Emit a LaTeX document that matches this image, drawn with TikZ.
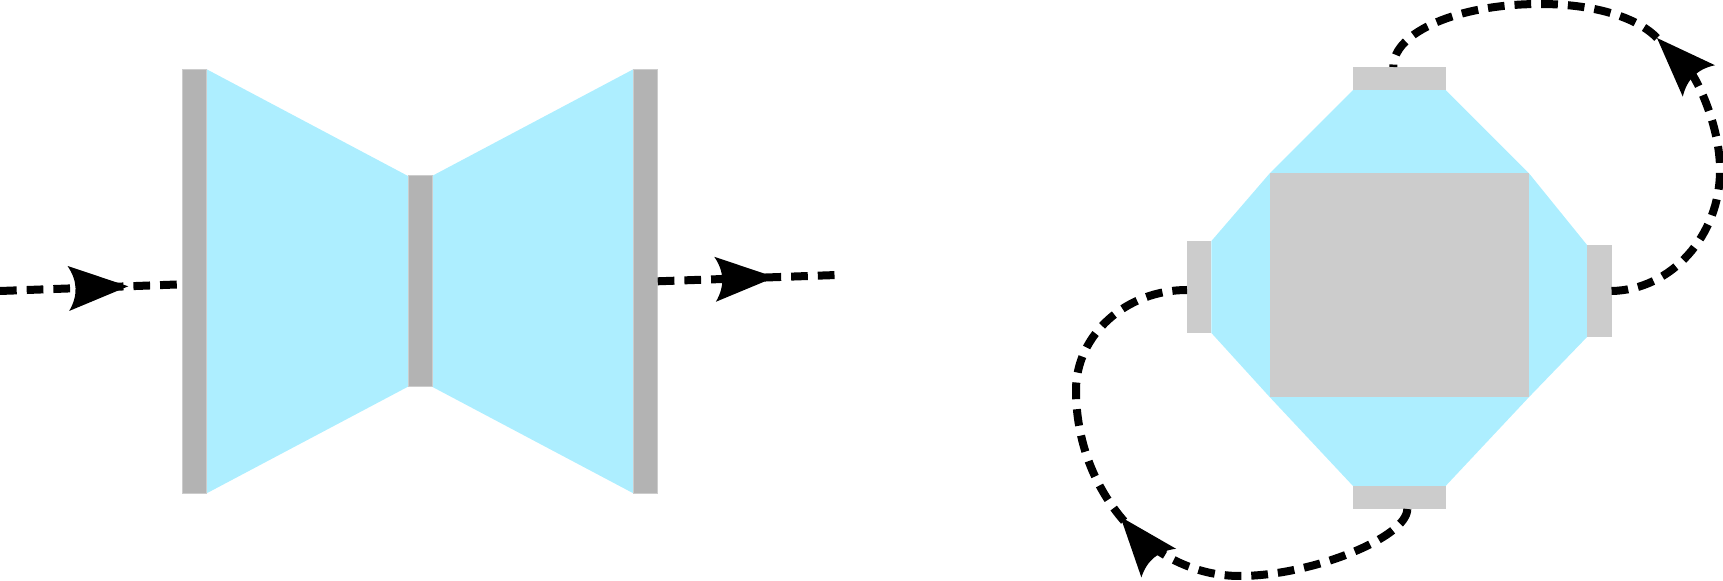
\documentclass[tikz,border=0pt]{standalone}
\usetikzlibrary{arrows.meta,decorations.markings,calc,backgrounds}
\definecolor{cyanfill}{RGB}{173,238,255}
\definecolor{bargray}{RGB}{179,179,179}
\definecolor{portgray}{RGB}{204,204,204}
\pgfdeclarearrow{
  name = CurvedStealth,
  parameters = {\the\pgfarrowlength,\the\pgfarrowwidth},
  setup code = {
    \pgfarrowssettipend{0pt}
    \pgfarrowssetbackend{-\pgfarrowlength}
    \pgfarrowssetlineend{-0.8\pgfarrowlength}
    \pgfarrowssavethe\pgfarrowlength
    \pgfarrowssavethe\pgfarrowwidth
  },
  drawing code = {
    \pgfpathmoveto{\pgfpoint{0pt}{0pt}}
    \pgfpathlineto{\pgfpoint{-\pgfarrowlength}{0.5\pgfarrowwidth}}
    \pgfpathquadraticcurveto{\pgfpoint{-0.76\pgfarrowlength}{0pt}}{\pgfpoint{-\pgfarrowlength}{-0.5\pgfarrowwidth}}
    \pgfpathclose
    \pgfusepathqfill
  },
  defaults = {length=30pt, width=22.5pt}
}
\begin{document}
\begin{tikzpicture}[x=0.5pt,y=-0.5pt,
  bar/.style={fill=bargray, draw=portgray, line width=0.5pt, inner sep=0pt, outer sep=0pt},
  port/.style={fill=portgray, inner sep=0pt, outer sep=0pt},
  flow/.style={line width=4pt, dash pattern=on 8.35pt off 5pt},
  headtip/.style={-{CurvedStealth[length=30pt,width=22.5pt]}},
  midarrow/.style={postaction={decorate}, decoration={markings,
     mark=at position #1 with {\arrow{CurvedStealth[length=30pt,width=22.5pt]}}}}
]
\useasboundingbox (0,0) rectangle (1723,581);
% left figure
\node[bar, minimum width=12.2pt, minimum height=212pt] (L1) at (194.5,281.3) {};
\node[bar, minimum width=12pt, minimum height=105.35pt] (M) at (420,281.35) {};
\node[bar, minimum width=12.2pt, minimum height=212pt] (R1) at (645.5,281.3) {};
% right figure
\node[port, minimum width=129.35pt, minimum height=112.2pt] (C) at (1399.35,285.2) {};
\node[port, minimum width=46.3pt, minimum height=11.5pt] (T) at (1399.3,78.5) {};
\node[port, minimum width=46.3pt, minimum height=11.5pt] (B) at (1399.3,497.5) {};
\node[port, minimum width=12.2pt, minimum height=46pt] (Lp) at (1199.2,287) {};
\node[port, minimum width=12.25pt, minimum height=46pt] (Rp) at (1599.3,291) {};
\begin{scope}[on background layer]
\fill[cyanfill] (L1.north east) -- (M.north west) -- (M.south west) -- (L1.south east) -- cycle;
\fill[cyanfill] (M.north east) -- (R1.north west) -- (R1.south west) -- (M.south east) -- cycle;
\fill[cyanfill] (T.south west) -- (T.south east) -- (C.north east) -- (Rp.north west)
  -- (Rp.south west) -- (C.south east) -- (B.north east) -- (B.north west)
  -- (C.south west) -- (Lp.south east) -- (Lp.north east) -- (C.north west) -- cycle;
\end{scope}
% connectors
\coordinate (in) at (0,291);
\coordinate (out) at (837,275);
\coordinate (ta) at (1657,38);
\draw[flow, midarrow=64.2pt] (in) -- ($(L1.west)+(0,3)$);
\draw[flow, midarrow=58.7pt] (R1.east) -- (out);
\draw[flow, headtip] (Rp.east) .. controls (1671,290) and (1720,236) .. (1720,170)
  .. controls (1720,125) and (1696,78) .. (ta);
\draw[flow] (ta) .. controls (1640,20) and (1600,4) .. (1540,4)
  .. controls (1459,4) and (1393,32) .. ($(T.north)+(-6,0)$);
\draw[flow, midarrow=163pt] ($(B.south)+(8,0)$) .. controls (1407,538) and (1310,576) .. (1240,576)
  .. controls (1150,576) and (1076,492) .. (1076,390)
  .. controls (1076,335) and (1126,290) .. ($(Lp.west)+(0,3)$);
\end{tikzpicture}
\end{document}
